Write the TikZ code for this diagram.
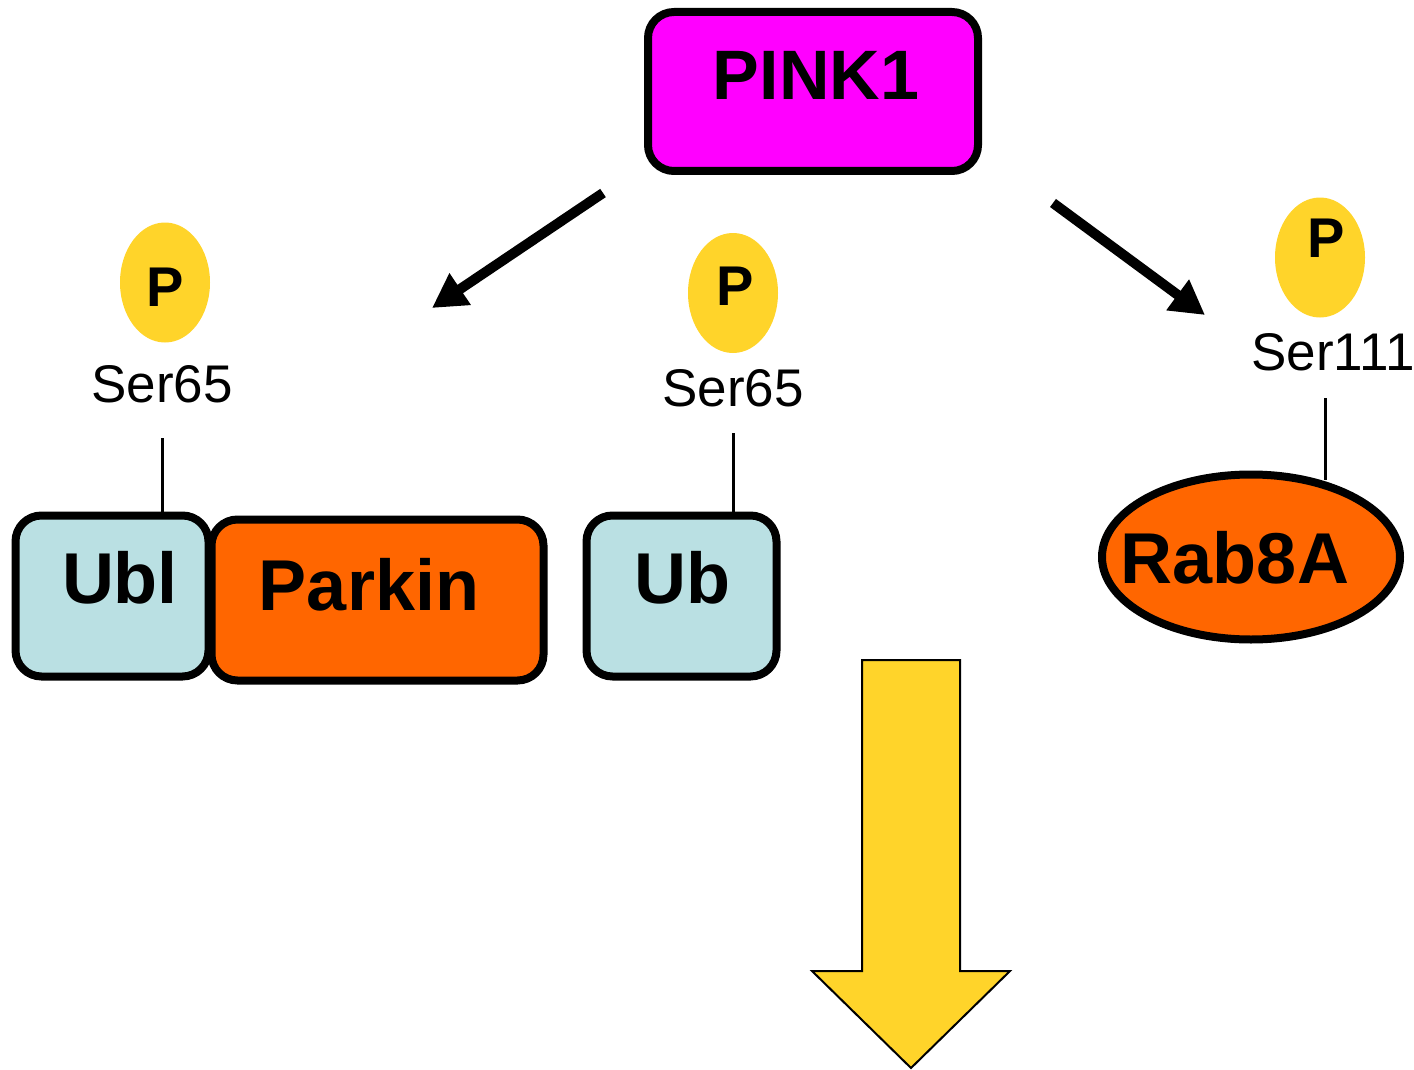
\documentclass[tikz,border=0pt]{standalone}
\usepackage{fontspec}
\setmainfont{Liberation Sans}
\usetikzlibrary{shapes.geometric, arrows.meta}

\definecolor{kinase}{HTML}{FF00FF}
\definecolor{ubblue}{HTML}{BAE0E3}
\definecolor{parkorange}{HTML}{FF6600}
\definecolor{phospho}{HTML}{FFD42A}

\tikzset{
  protbox/.style={draw=black, line width=4pt, rounded corners=13pt, inner sep=0pt},
  bigtext/.style={font=\bfseries\fontsize{36pt}{40pt}\selectfont, anchor=base, inner sep=0pt},
  sitetext/.style={font=\fontsize{26.5pt}{30pt}\selectfont, anchor=base, inner sep=0pt},
  phos/.style={ellipse, fill=phospho, draw=none, minimum width=45pt, minimum height=60pt, inner sep=0pt},
  phostext/.style={font=\bfseries\fontsize{28pt}{32pt}\selectfont, anchor=base, inner sep=0pt},
  tether/.style={draw=black, line width=1.5pt},
  kinarrow/.style={draw=black, line width=5pt, -{Triangle[length=17pt, width=18pt]}},
}

\begin{document}
\begin{tikzpicture}[x=0.5pt, y=-0.5pt]
\useasboundingbox (0,0) rectangle (1414,1070);

% PINK1 kinase
\node[protbox, fill=kinase, minimum width=165pt, minimum height=79.5pt] (pink) at (813,91.5) {};
\node[bigtext, font=\bfseries\fontsize{35pt}{40pt}\selectfont] (pinklabel) at (816,100) {PINK1};

% Parkin with its Ubl domain
\node[protbox, fill=parkorange, minimum width=166pt, minimum height=80.5pt] (parkin) at (377.5,600) {};
\node[protbox, fill=ubblue, minimum width=96.5pt, minimum height=80.5pt] (ubl) at (112,596) {};
\node[bigtext] (parkinlabel) at (369,610) {Parkin};
\node[bigtext] (ubllabel) at (120,603) {Ubl};

% Ubiquitin
\node[protbox, fill=ubblue, minimum width=95pt, minimum height=80.5pt] (ub) at (681.5,596) {};
\node[bigtext] (ublabel) at (682,603) {Ub};

% Rab8A
\node[ellipse, draw=black, line width=4pt, fill=parkorange, minimum width=149pt, minimum height=82.5pt, inner sep=0pt] (rab) at (1251,557) {};
\node[bigtext] (rablabel) at (1235,583) {Rab8A};

% Phosphate groups and sites
\node[phos] (p1) at (165,282.5) {};
\node[phos] (p2) at (733,293) {};
\node[phos] (p3) at (1320,257.5) {};
\node[phostext] (p1label) at (165,306) {P};
\node[phostext] (p2label) at (735,305) {P};
\node[phostext] (p3label) at (1326,257) {P};
\node[sitetext] (s1) at (162,402) {Ser65};
\node[sitetext] (s2) at (733,406) {Ser65};
\node[sitetext] (s3) at (1333,370) {Ser111};

% Tethers from sites to the residues
\coordinate (t1) at (162,438);
\coordinate (t2) at (733,433);
\coordinate (t3) at (1325,398);
\coordinate (r3) at (1325,480);
\draw[tether] (t1) -- (t1 |- ubl.north);
\draw[tether] (t2) -- (t2 |- ub.north);
\draw[tether] (t3) -- (r3);

% Phosphorylation arrows
\coordinate (a1s) at (603,193);
\coordinate (a1e) at (432,308);
\coordinate (a2s) at (1053,203);
\coordinate (a2e) at (1205,315);
\draw[kinarrow] (a1s) -- (a1e);
\draw[kinarrow] (a2s) -- (a2e);

% Downstream block arrow
\draw[fill=phospho, draw=black, line width=1pt, line join=miter]
  (862,660) -- (960,660) -- (960,971) -- (1010,971) -- (911,1068) -- (812,971) -- (862,971) -- cycle;
\end{tikzpicture}
\end{document}
